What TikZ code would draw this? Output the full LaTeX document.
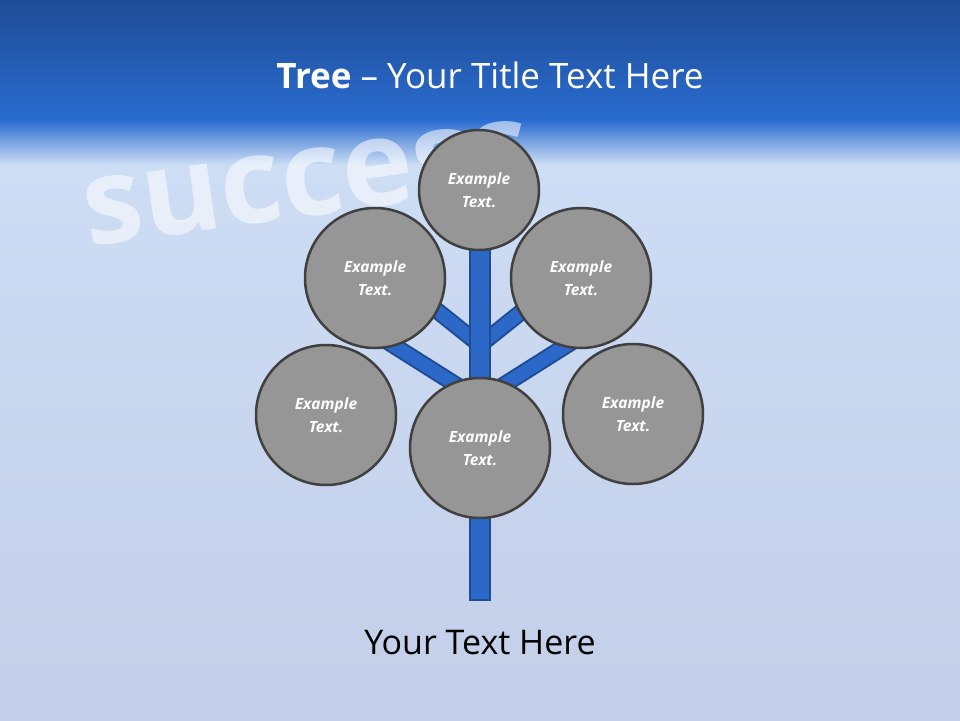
\documentclass[tikz,border=0pt]{standalone}
\usepackage{fontspec}
\setmainfont{Open Sans}
\begin{document}
\begin{tikzpicture}[x=1pt,y=-1pt,
  leaf/.style={circle,draw=black!75,line width=2.5pt,fill=black!41,text=white,font=\bfseries\itshape\fontsize{15.5}{23}\selectfont,align=center,inner sep=0pt}]
\definecolor{trunkblue}{HTML}{2B68C8}
\definecolor{trunkedge}{HTML}{1D4C95}
\useasboundingbox (0,0) rectangle (960,720);
\shade[top color={rgb,255:red,205;green,222;blue,245},bottom color={rgb,255:red,196;green,206;blue,232}] (0,130) rectangle (960,720);
\shade[top color={rgb,255:red,42;green,108;blue,208},bottom color={rgb,255:red,205;green,222;blue,245}] (0,120) rectangle (960,165);
\shade[top color={rgb,255:red,31;green,76;blue,150},bottom color={rgb,255:red,42;green,108;blue,208}] (0,0) rectangle (960,121);
\node[text=white,opacity=0.55,font=\bfseries\fontsize{120}{120}\selectfont,rotate=8,anchor=west] (bg) at (80,215) {success};
\node[text=white,font=\fontsize{35}{40}\selectfont] (title) at (490,75) {\textbf{Tree} -- Your Title Text Here};
\coordinate (j1) at (480,345);
\coordinate (j2) at (480,400);
\coordinate (b1) at (430,305);
\coordinate (b2) at (530,305);
\coordinate (b3) at (385,340);
\coordinate (b4) at (575,340);
\foreach \a/\b in {j1/b1,j1/b2,j2/b3,j2/b4}{\draw[trunkedge,line width=17pt] (\a)--(\b);}
\foreach \a/\b in {j1/b1,j1/b2,j2/b3,j2/b4}{\draw[trunkblue,line width=13pt] (\a)--(\b);}
\node[draw=trunkedge,fill=trunkblue,line width=1.5pt,minimum width=20pt,minimum height=360pt,inner sep=0pt] (trunk) at (480,420) {};
\node[leaf,minimum size=120pt] (t) at (479,190) {Example\\Text.};
\node[leaf,minimum size=140pt] (ul) at (375,278) {Example\\Text.};
\node[leaf,minimum size=140pt] (ur) at (581,278) {Example\\Text.};
\node[leaf,minimum size=140pt] (l) at (326,415) {Example\\Text.};
\node[leaf,minimum size=140pt] (c) at (480,448) {Example\\Text.};
\node[leaf,minimum size=140pt] (r) at (633,414) {Example\\Text.};
\node[font=\fontsize{34}{40}\selectfont] (foot) at (480,643) {Your Text Here};
\end{tikzpicture}
\end{document}
